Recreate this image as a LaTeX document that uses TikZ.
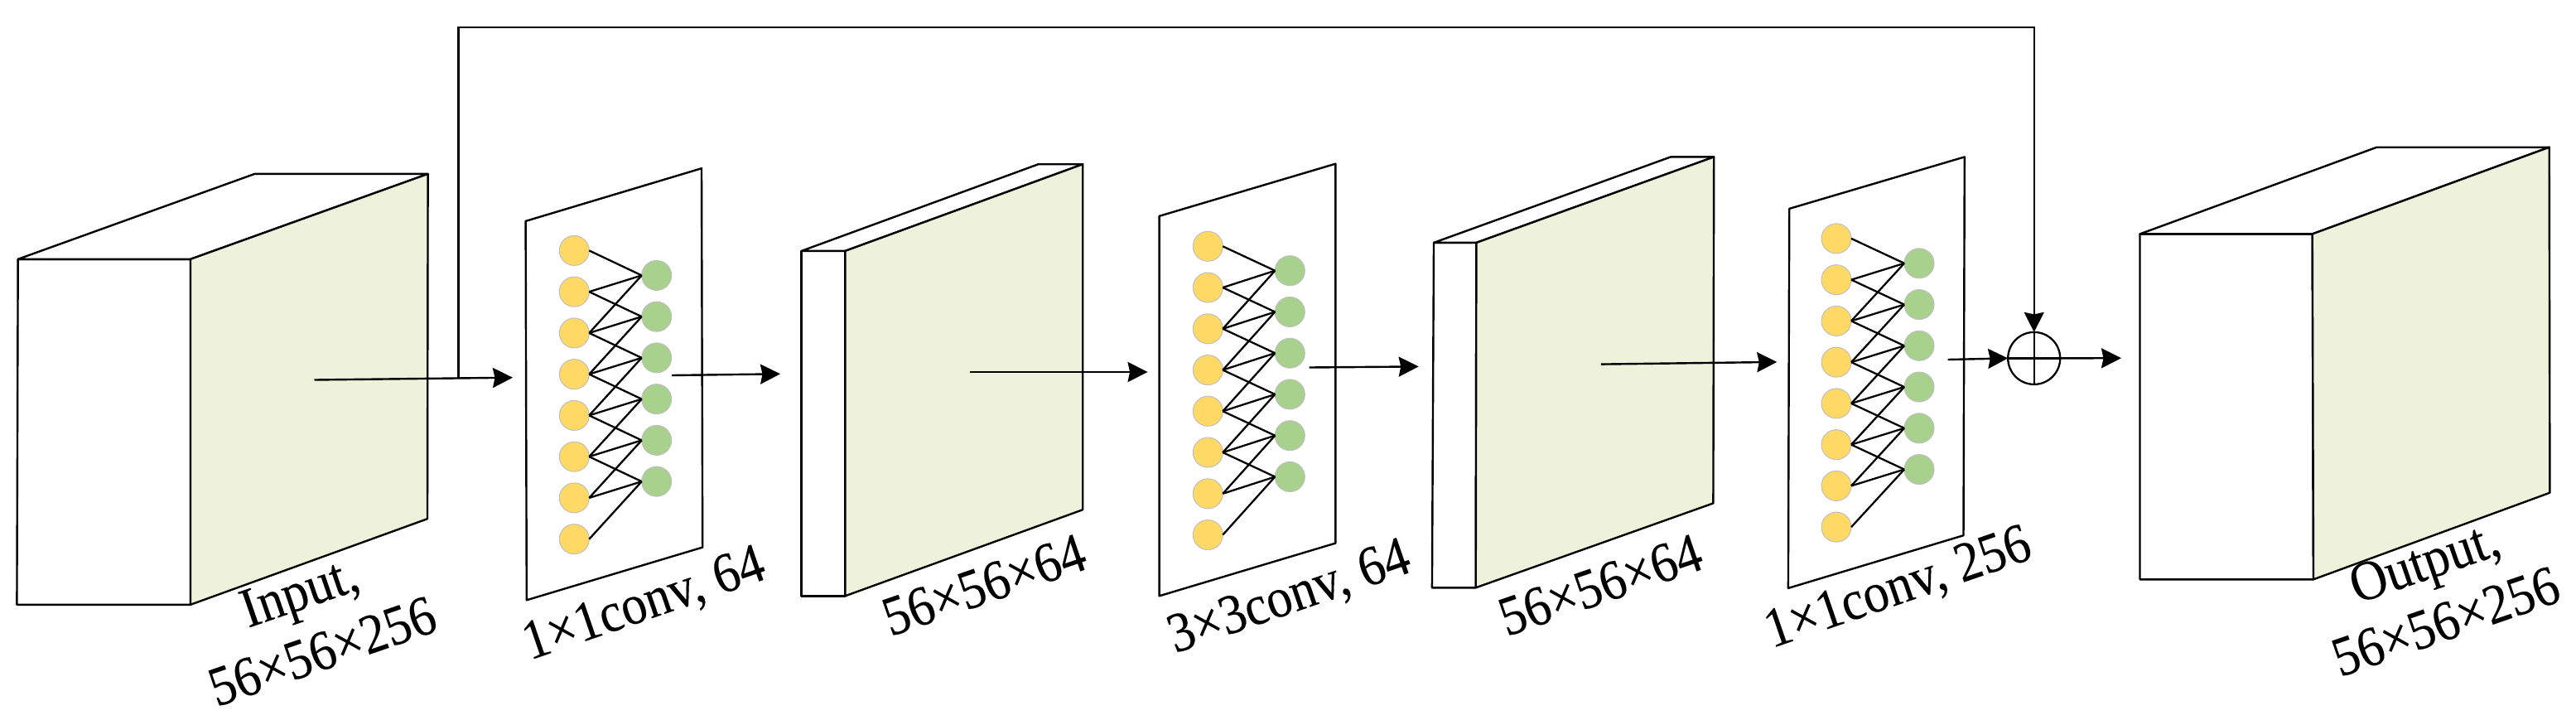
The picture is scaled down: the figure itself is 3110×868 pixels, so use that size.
\documentclass[tikz,border=0pt]{standalone}
\usepackage{fontspec}
\setmainfont{Liberation Serif}
\newfontfamily\capfont[FakeBold=0.2]{Liberation Serif}
\usetikzlibrary{arrows.meta}
\definecolor{facegreen}{HTML}{EEF2DA}
\definecolor{dotyellow}{HTML}{FFD966}
\definecolor{dotgreen}{HTML}{A9D18E}
\tikzset{
  outline/.style={draw=black,line width=2.4pt,line join=round,fill=white},
  sideface/.style={outline,fill=facegreen},
  conn/.style={draw=black,line width=2.4pt,-{Stealth[length=24pt,width=24pt,inset=2.5pt]}},
  wire/.style={draw=black,line width=2.3pt},
  yellowdot/.style={circle,draw=black!25,line width=1pt,fill=dotyellow,minimum size=36pt,inner sep=0pt,outer sep=0pt},
  greendot/.style={circle,draw=black!25,line width=1pt,fill=dotgreen,minimum size=36pt,inner sep=0pt,outer sep=0pt},
  sumnode/.style={circle,draw=black,line width=2.3pt,fill=white,minimum size=63pt,inner sep=0pt,outer sep=0pt},
  caption/.style={font=\capfont\fontsize{68}{70}\selectfont,inner sep=0pt,outer sep=0pt,align=center,rotate=19,xscale=.905},
}
\newcommand{\netlayer}[5]{%
  \foreach \i in {1,...,8} \node[yellowdot] (#1y\i) at ({#2},{#3+(\i-1)*49.75}) {};
  \foreach \i in {1,...,6} \node[greendot] (#1g\i) at ({#4},{#5+(\i-1)*49.75}) {};
  \foreach \j in {1,...,6} \foreach \k in {0,1,2} {
    \pgfmathtruncatemacro{\n}{\j+\k}
    \draw[wire] (#1y\n.east) -- (#1g\j.west);
  }
}
\newcommand{\slab}[7]{% front TL, TR, BR, BL, back TL, back TR, back BR
  \draw[outline] #1 -- #2 -- #3 -- #4 -- cycle;
  \draw[outline] #1 -- #5 -- #6 -- #2 -- cycle;
  \draw[sideface] #2 -- #6 -- #7 -- #3 -- cycle;
}
\begin{document}
\begin{tikzpicture}[x=1pt,y=-1pt]
\useasboundingbox (0,0) rectangle (3110,868);

% blocks
\slab{(21.7,312.8)}{(230,312.8)}{(230,729.8)}{(20.4,729.8)}{(307.4,209.9)}{(516.6,209.9)}{(516,626.2)}
\slab{(967.6,302.9)}{(1020.4,302.9)}{(1020.4,719.3)}{(967.6,719.3)}{(1253.6,198.2)}{(1307.2,198.2)}{(1307.2,615.2)}
\slab{(1731,292.9)}{(1782.4,292.9)}{(1781.7,709.3)}{(1728.9,709.3)}{(2017,189.4)}{(2069.2,189.4)}{(2068.4,607.4)}
\slab{(2583.5,282.4)}{(2791.7,282.4)}{(2793,699.3)}{(2583.5,699.3)}{(2869.5,177.7)}{(3077.7,177.7)}{(3078.4,594.7)}

% conv panels
\draw[outline] (634.6,266.9) -- (847,203.2) -- (848.2,660.6) -- (635.8,724.3) -- cycle;
\draw[outline] (1399.6,260.8) -- (1612.3,197.7) -- (1612.3,655.6) -- (1399.6,719.3) -- cycle;
\draw[outline] (2160.2,251.9) -- (2371.8,189.4) -- (2370.5,646.2) -- (2158.9,709.9) -- cycle;

\netlayer{a}{693.3}{302.4}{792.7}{332.4}
\netlayer{b}{1458.3}{297.3}{1557.3}{326.7}
\netlayer{c}{2217}{287.9}{2317}{317.8}

% named arrow ends
\coordinate (inA) at (379.5,458.5);
\coordinate (toA) at (619,455.7);
\coordinate (skipstart) at (553.6,456.2);
\coordinate (rail) at (2455.7,32.7);
\coordinate (outA) at (811,453);
\coordinate (toSlabB) at (942,451.3);
\coordinate (inB) at (1170.8,449);
\coordinate (toB) at (1385.6,449);
\coordinate (outB) at (1580.7,443.5);
\coordinate (toSlabC) at (1712.7,442.4);
\coordinate (inC) at (1932.8,439.6);
\coordinate (toC) at (2145.3,436.9);
\coordinate (outC) at (2351.6,434);
\coordinate (toSlabD) at (2561,432.2);

% sum
\node[sumnode] (sum) at (2455.7,432.4) {};
\draw[wire] (sum.north) -- (sum.south);
\draw[wire] (sum.west) -- (sum.east);

% connectors
\draw[conn] (inA) -- (toA);
\draw[conn] (skipstart) |- (rail) -- (sum.north);
\draw[conn] (outA) -- (toSlabB);
\draw[conn] (inB) -- (toB);
\draw[conn] (outB) -- (toSlabC);
\draw[conn] (inC) -- (toC);
\draw[conn] (outC) -- (sum.west);
\draw[conn] (sum.east) -- (toSlabD);

% labels
\node[caption] (l1a) at (363.5,720) {Input,};
\node[caption] (l1b) at (389,786) {56×56×256};
\node[caption] (l2) at (778,731) {1×1conv, 64};
\node[caption] (l3) at (1188,706) {56×56×64};
\node[caption] (l4) at (1557,722.6) {3×3conv, 64};
\node[caption] (l5) at (1932,706) {56×56×64};
\node[caption] (l6) at (2292,711.5) {1×1conv, 256};
\node[caption] (l7a) at (2929,684) {Output,};
\node[caption] (l7b) at (2952.6,750) {56×56×256};
\end{tikzpicture}
\end{document}
